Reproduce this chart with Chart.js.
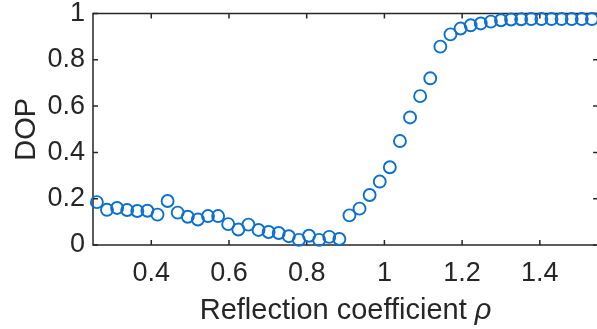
<!DOCTYPE html>
<html>
<head>
<meta charset="utf-8">
<script src="https://cdn.jsdelivr.net/npm/chart.js@4.4.0/dist/chart.umd.min.js"></script>
<style>
  html, body { margin: 0; padding: 0; background: #fff; overflow: hidden; }
  #wrap { width: 606px; height: 329px; }
</style>
</head>
<body>
<div id="wrap"><canvas id="dopChart" width="606" height="329"></canvas></div>
<script>
// reflection coefficient samples
const rho = [
  0.260, 0.286, 0.312, 0.338, 0.364, 0.390, 0.416, 0.442, 0.468, 0.494,
  0.520, 0.546, 0.572, 0.598, 0.624, 0.650, 0.676, 0.702, 0.728, 0.754,
  0.780, 0.806, 0.832, 0.858, 0.884, 0.910, 0.936, 0.962, 0.988, 1.014,
  1.040, 1.066, 1.092, 1.118, 1.144, 1.170, 1.196, 1.222, 1.248, 1.274,
  1.300, 1.326, 1.352, 1.378, 1.404, 1.430, 1.456, 1.482, 1.508, 1.534
];
// degree of polarization
const dop = [
  0.185, 0.152, 0.160, 0.151, 0.147, 0.148, 0.131, 0.190, 0.140, 0.122,
  0.110, 0.125, 0.125, 0.090, 0.067, 0.088, 0.065, 0.056, 0.052, 0.038,
  0.022, 0.040, 0.022, 0.035, 0.026, 0.128, 0.157, 0.216, 0.274, 0.336,
  0.449, 0.551, 0.643, 0.720, 0.857, 0.910, 0.935, 0.949, 0.957, 0.965,
  0.971, 0.974, 0.975, 0.976, 0.976, 0.976, 0.976, 0.976, 0.976, 0.976
];
const xTicks = [0.4, 0.6, 0.8, 1, 1.2, 1.4];
const yTicks = [0, 0.2, 0.4, 0.6, 0.8, 1];

const AXIS_COLOR = '#262626';
const MARKER_COLOR = '#0b6fd0';
const FONT = '"Liberation Sans", Arial, Helvetica, sans-serif';
const TICK_LEN = 5;
const TICK_SIZE = 27;
const LABEL_SIZE = 29;

const fmt = v => String(Math.round(v * 10) / 10);

// box with inward ticks on all four sides, drawn under the markers
const boxAxes = {
  id: 'boxAxes',
  beforeDatasetsDraw(chart) {
    const { ctx, chartArea: a, scales: { x, y } } = chart;
    ctx.save();
    ctx.strokeStyle = AXIS_COLOR;
    ctx.lineWidth = 1.5;
    ctx.strokeRect(a.left, a.top, a.right - a.left, a.bottom - a.top);
    ctx.beginPath();
    xTicks.forEach(v => {
      const px = x.getPixelForValue(v);
      ctx.moveTo(px, a.bottom); ctx.lineTo(px, a.bottom - TICK_LEN);
      ctx.moveTo(px, a.top); ctx.lineTo(px, a.top + TICK_LEN);
    });
    yTicks.forEach(v => {
      const py = y.getPixelForValue(v);
      ctx.moveTo(a.left, py); ctx.lineTo(a.left + TICK_LEN, py);
      ctx.moveTo(a.right, py); ctx.lineTo(a.right - TICK_LEN, py);
    });
    ctx.stroke();
    ctx.restore();
  }
};

// x label with an italic rho
const xTitle = {
  id: 'xTitle',
  afterDraw(chart) {
    const { ctx, chartArea: a } = chart;
    const plain = 'Reflection coefficient ';
    const sym = 'ρ';
    const base = 319;
    ctx.save();
    ctx.fillStyle = AXIS_COLOR;
    ctx.textBaseline = 'alphabetic';
    ctx.font = LABEL_SIZE + 'px ' + FONT;
    const w1 = ctx.measureText(plain).width;
    ctx.font = 'italic ' + LABEL_SIZE + 'px ' + FONT;
    const w2 = ctx.measureText(sym).width;
    const x0 = (a.left + a.right) / 2 - (w1 + w2) / 2;
    ctx.font = LABEL_SIZE + 'px ' + FONT;
    ctx.fillText(plain, x0, base);
    ctx.font = 'italic ' + LABEL_SIZE + 'px ' + FONT;
    ctx.fillText(sym, x0 + w1, base);
    ctx.restore();
  }
};

new Chart(document.getElementById('dopChart'), {
  type: 'scatter',
  data: {
    datasets: [{
      data: rho.map((r, i) => ({ x: r, y: dop[i] })),
      pointStyle: 'circle',
      pointRadius: 6,
      pointHoverRadius: 6,
      pointBorderWidth: 1.9,
      pointBorderColor: MARKER_COLOR,
      pointBackgroundColor: 'rgba(0,0,0,0)',
      clip: false
    }]
  },
  options: {
    responsive: false,
    animation: false,
    events: [],
    layout: { padding: { top: 13.5, right: 5.4, left: 0, bottom: 0 } },
    plugins: { legend: { display: false }, tooltip: { enabled: false } },
    scales: {
      x: {
        type: 'linear',
        min: 0.25,
        max: 1.55,
        grid: { display: false, drawTicks: false },
        border: { display: false },
        afterBuildTicks: s => { s.ticks = xTicks.map(v => ({ value: v })); },
        afterFit: s => { s.height = 84; s.paddingLeft = 0; s.paddingRight = 0; },
        ticks: {
          padding: 12,
          maxRotation: 0,
          color: AXIS_COLOR,
          font: { family: FONT, size: TICK_SIZE },
          callback: fmt
        }
      },
      y: {
        min: 0,
        max: 1,
        grid: { display: false, drawTicks: false },
        border: { display: false },
        afterBuildTicks: s => { s.ticks = yTicks.map(v => ({ value: v })); },
        afterFit: s => { s.width = 93; s.paddingTop = 0; s.paddingBottom = 0; },
        ticks: {
          padding: 8,
          color: AXIS_COLOR,
          font: { family: FONT, size: TICK_SIZE },
          callback: fmt
        },
        title: {
          display: true,
          text: 'DOP',
          color: AXIS_COLOR,
          padding: { top: 10, bottom: 0 },
          font: { family: FONT, size: LABEL_SIZE }
        }
      }
    }
  },
  plugins: [boxAxes, xTitle]
});
</script>
</body>
</html>
